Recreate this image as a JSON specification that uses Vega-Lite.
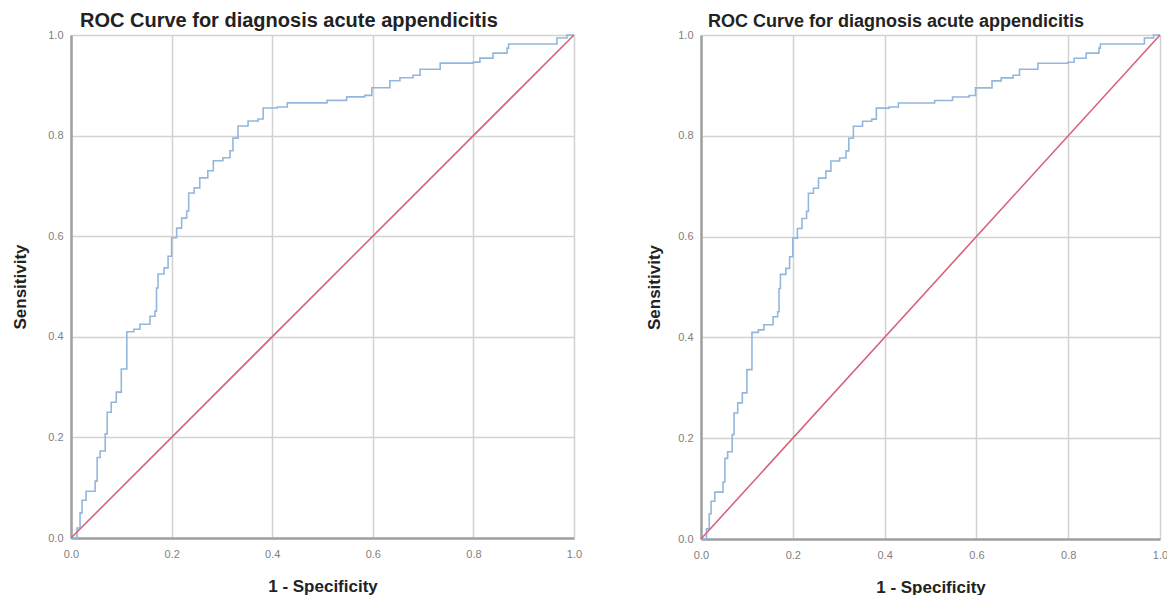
{
  "$schema": "https://vega.github.io/schema/vega-lite/v6.json",
  "padding": {"left": 11, "top": 11, "right": 0, "bottom": 0},
  "background": "white",
  "bounds": "flush",
  "spacing": 127,
  "datasets": {
    "roc": [
      {"fpr": 0, "tpr": 0}, {"fpr": 0.012, "tpr": 0.02}, {"fpr": 0.018, "tpr": 0.05}, {"fpr": 0.022, "tpr": 0.075},
      {"fpr": 0.03, "tpr": 0.093}, {"fpr": 0.048, "tpr": 0.113}, {"fpr": 0.052, "tpr": 0.16}, {"fpr": 0.058, "tpr": 0.173},
      {"fpr": 0.068, "tpr": 0.207}, {"fpr": 0.072, "tpr": 0.25}, {"fpr": 0.08, "tpr": 0.27}, {"fpr": 0.09, "tpr": 0.29},
      {"fpr": 0.1, "tpr": 0.336}, {"fpr": 0.111, "tpr": 0.41}, {"fpr": 0.125, "tpr": 0.415}, {"fpr": 0.137, "tpr": 0.425},
      {"fpr": 0.157, "tpr": 0.441}, {"fpr": 0.167, "tpr": 0.451}, {"fpr": 0.17, "tpr": 0.497}, {"fpr": 0.173, "tpr": 0.525},
      {"fpr": 0.185, "tpr": 0.537}, {"fpr": 0.193, "tpr": 0.56}, {"fpr": 0.2, "tpr": 0.597}, {"fpr": 0.21, "tpr": 0.616},
      {"fpr": 0.22, "tpr": 0.636}, {"fpr": 0.23, "tpr": 0.65}, {"fpr": 0.234, "tpr": 0.686}, {"fpr": 0.245, "tpr": 0.696},
      {"fpr": 0.256, "tpr": 0.716}, {"fpr": 0.272, "tpr": 0.73}, {"fpr": 0.283, "tpr": 0.75}, {"fpr": 0.302, "tpr": 0.756},
      {"fpr": 0.316, "tpr": 0.77}, {"fpr": 0.322, "tpr": 0.795}, {"fpr": 0.332, "tpr": 0.819}, {"fpr": 0.352, "tpr": 0.829},
      {"fpr": 0.372, "tpr": 0.833}, {"fpr": 0.382, "tpr": 0.855}, {"fpr": 0.41, "tpr": 0.857}, {"fpr": 0.43, "tpr": 0.865},
      {"fpr": 0.509, "tpr": 0.87}, {"fpr": 0.548, "tpr": 0.877}, {"fpr": 0.584, "tpr": 0.88}, {"fpr": 0.598, "tpr": 0.895},
      {"fpr": 0.634, "tpr": 0.909}, {"fpr": 0.654, "tpr": 0.915}, {"fpr": 0.68, "tpr": 0.92}, {"fpr": 0.694, "tpr": 0.932},
      {"fpr": 0.734, "tpr": 0.944}, {"fpr": 0.8, "tpr": 0.946}, {"fpr": 0.813, "tpr": 0.954}, {"fpr": 0.839, "tpr": 0.964},
      {"fpr": 0.867, "tpr": 0.974}, {"fpr": 0.87, "tpr": 0.982}, {"fpr": 0.958, "tpr": 0.982}, {"fpr": 0.966, "tpr": 0.994},
      {"fpr": 0.986, "tpr": 1.0}, {"fpr": 1.0, "tpr": 1.0}
    ],
    "diag": [{"fpr": 0, "tpr": 0}, {"fpr": 1, "tpr": 1}]
  },
  "config": {
    "view": {"stroke": null},
    "font": "Liberation Sans",
    "axis": {
      "ticks": false,
      "labelFont": "Liberation Sans",
      "labelFontSize": 11,
      "labelColor": "#808080",
      "labelFlush": false,
      "labelOverlap": false,
      "domainColor": "#a0a0a0",
      "domainWidth": 2.5,
      "gridColor": "#d2d2d2",
      "gridWidth": 1.5,
      "gridOpacity": 1,
      "titleFont": "Liberation Sans",
      "titleFontSize": 17,
      "titleFontWeight": "bold",
      "titleColor": "#222222"
    },
    "title": {"font": "Liberation Sans", "fontWeight": "bold", "color": "#222222", "anchor": "start", "frame": "group", "baseline": "alphabetic"}
  },
  "hconcat": [
    {
      "width": 503,
      "height": 503,
      "title": {"text": "ROC Curve for diagnosis acute appendicitis", "fontSize": 20, "dx": 9, "offset": -2},
      "layer": [
        {
          "data": {"name": "roc"},
          "mark": {"type": "line", "interpolate": "step-after", "color": "#93b7dc", "strokeWidth": 1.6},
          "encoding": {
            "x": {"field": "fpr", "type": "quantitative", "scale": {"domain": [0, 1], "nice": false}, "title": "1 - Specificity",
                  "axis": {"values": [0, 0.2, 0.4, 0.6, 0.8, 1.0], "format": ".1f", "labelPadding": 10, "titlePadding": 19}},
            "y": {"field": "tpr", "type": "quantitative", "scale": {"domain": [0, 1], "nice": false}, "title": "Sensitivity",
                  "axis": {"values": [0, 0.2, 0.4, 0.6, 0.8, 1.0], "format": ".1f", "labelPadding": 8, "titlePadding": 18}}
          }
        },
        {
          "data": {"name": "diag"},
          "mark": {"type": "line", "color": "#d6647c", "strokeWidth": 1.6},
          "encoding": {
            "x": {"field": "fpr", "type": "quantitative"},
            "y": {"field": "tpr", "type": "quantitative"}
          }
        }
      ]
    },
    {
      "width": 459,
      "height": 504,
      "title": {"text": "ROC Curve for diagnosis acute appendicitis", "fontSize": 18, "dx": 7, "offset": -2},
      "layer": [
        {
          "data": {"name": "roc"},
          "mark": {"type": "line", "interpolate": "step-after", "color": "#93b7dc", "strokeWidth": 1.6},
          "encoding": {
            "x": {"field": "fpr", "type": "quantitative", "scale": {"domain": [0, 1], "nice": false}, "title": "1 - Specificity",
                  "axis": {"values": [0, 0.2, 0.4, 0.6, 0.8, 1.0], "format": ".1f", "labelPadding": 10, "titlePadding": 19}},
            "y": {"field": "tpr", "type": "quantitative", "scale": {"domain": [0, 1], "nice": false}, "title": "Sensitivity",
                  "axis": {"values": [0, 0.2, 0.4, 0.6, 0.8, 1.0], "format": ".1f", "labelPadding": 8, "titlePadding": 14}}
          }
        },
        {
          "data": {"name": "diag"},
          "mark": {"type": "line", "color": "#d6647c", "strokeWidth": 1.6},
          "encoding": {
            "x": {"field": "fpr", "type": "quantitative"},
            "y": {"field": "tpr", "type": "quantitative"}
          }
        }
      ]
    }
  ]
}
